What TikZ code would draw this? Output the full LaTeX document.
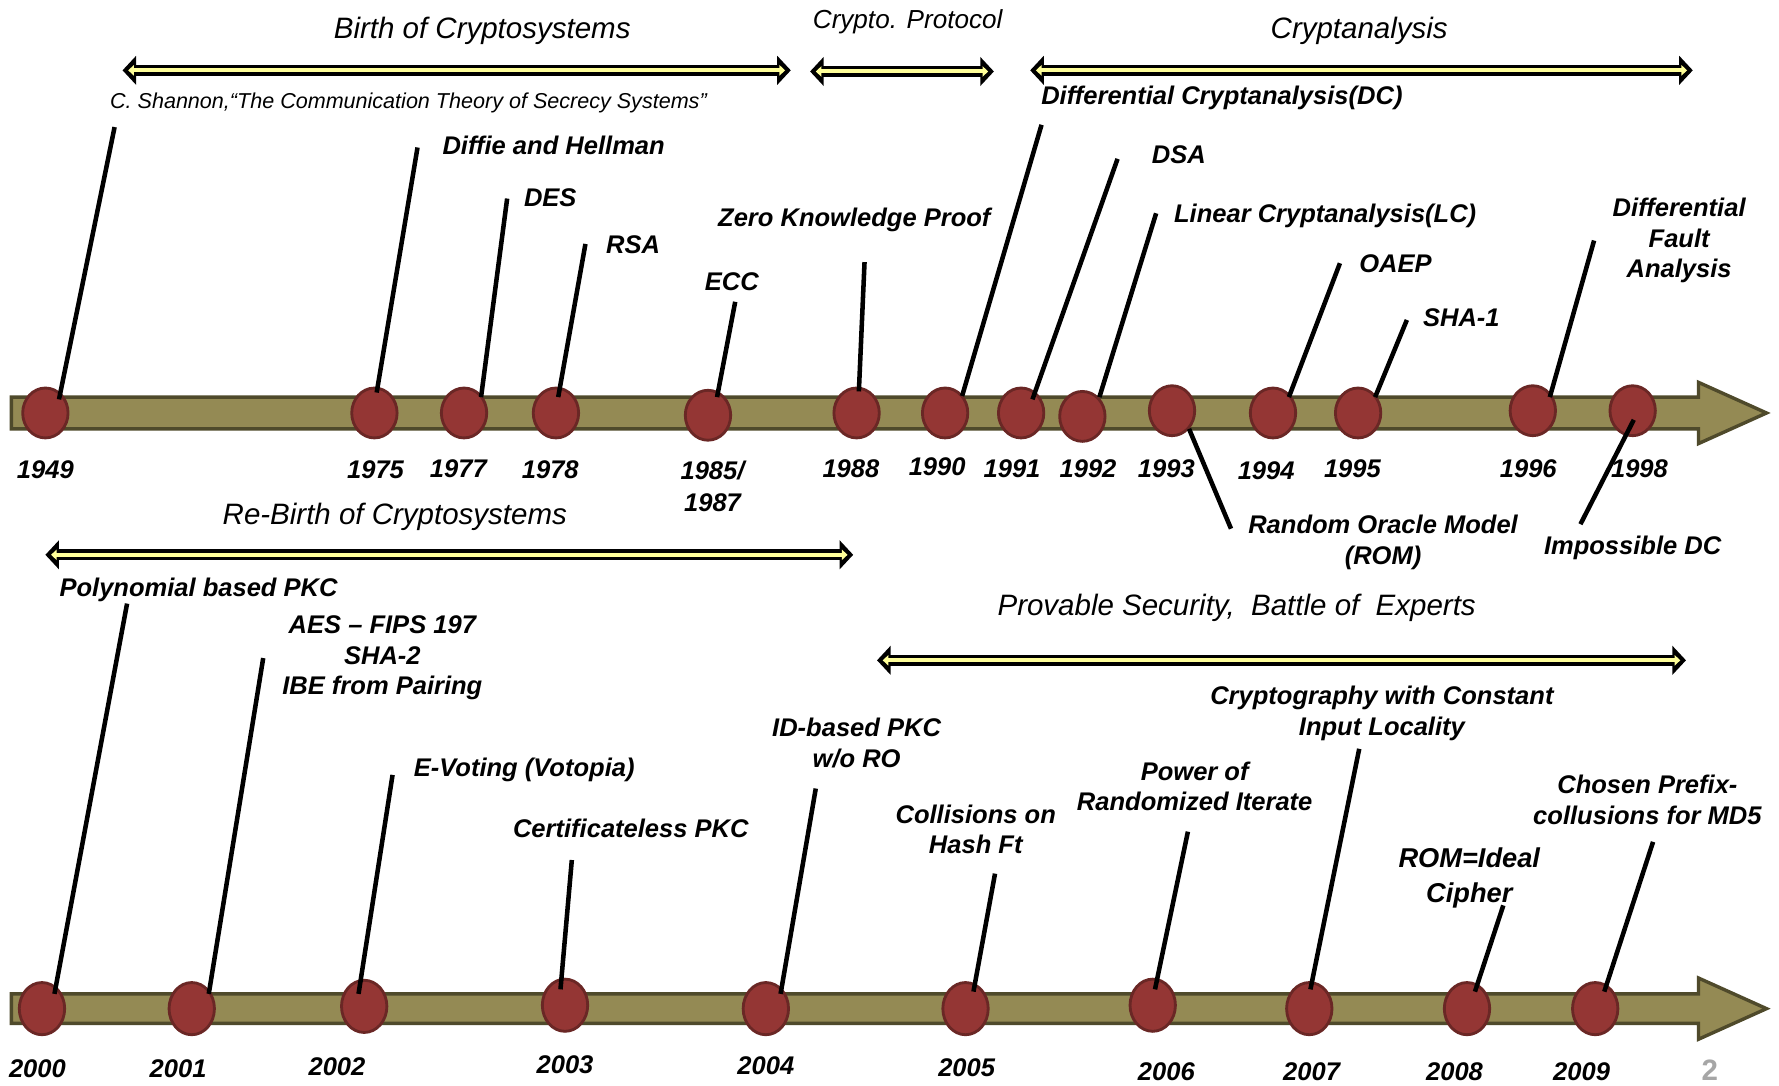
\documentclass[tikz,border=0pt]{standalone}
\usepackage{fontspec}
\setmainfont{Liberation Sans}
\usetikzlibrary{arrows.meta,shapes.geometric,calc}
\definecolor{barfill}{HTML}{948A54}
\definecolor{bardraw}{HTML}{4F4A2B}
\definecolor{dotfill}{HTML}{943634}
\definecolor{dotdraw}{HTML}{6A2725}
\definecolor{yel}{HTML}{FFFF99}
\definecolor{pagegray}{HTML}{A6A6A6}
\begin{document}
\begin{tikzpicture}[x=1pt,y=-1pt,
  lbl/.style={font=\fontsize{22.5}{27}\selectfont\bfseries\itshape, align=center, inner sep=0pt, yshift=-2pt},
  yr/.style={font=\fontsize{22.5}{28}\selectfont\bfseries\itshape, align=center, inner sep=0pt, yshift=-2pt},
  ttl/.style={font=\fontsize{26}{30}\selectfont\itshape, inner sep=0pt, yshift=-2.5pt},
  dot/.style={ellipse, draw=dotdraw, line width=2.5pt, fill=dotfill, minimum width=40pt, minimum height=44pt, inner sep=0pt},
  conn/.style={draw=black, line width=4pt},
  barshape/.style={fill=barfill, draw=bardraw, line width=3pt, line join=miter},
  dblarrow/.style={draw=black, line width=10pt, {Triangle[length=12pt,width=25pt]}-{Triangle[length=12pt,width=25pt]},
     postaction={draw=yel, line width=3.5pt, {Triangle[length=5pt,width=9pt]}-{Triangle[length=5pt,width=9pt]}, shorten <=5pt, shorten >=5pt}}
]
\useasboundingbox[fill=white] (0,0) rectangle (1568,957);

% ---------- bars ----------
\draw[barshape] (10,350) -- (1497,350) -- (1497,337) -- (1557,364) -- (1497,391) -- (1497,378) -- (10,378) -- cycle;
\draw[barshape] (10,876) -- (1497,876) -- (1497,862) -- (1557,889) -- (1497,916) -- (1497,902) -- (10,902) -- cycle;

% ---------- titles and period arrows ----------
\node[ttl] (tBirth) at (425,25) {Birth of Cryptosystems};
\node[ttl, font=\fontsize{23}{27}\selectfont\itshape] (tProt) at (800,17) {Crypto. Protocol};
\node[ttl] (tCrypt) at (1198,25) {Cryptanalysis};
\node[ttl] (tRebirth) at (348,453) {Re-Birth of Cryptosystems};
\node[ttl] (tProv) at (1090,533) {Provable Security,\ \ Battle of\ \ Experts};

\coordinate (a1l) at (108,62); \coordinate (a1r) at (697,62);
\coordinate (a2l) at (714,63); \coordinate (a2r) at (876,63);
\coordinate (a3l) at (908,62); \coordinate (a3r) at (1492,62);
\coordinate (a4l) at (40,489); \coordinate (a4r) at (752,489);
\coordinate (a5l) at (773,582); \coordinate (a5r) at (1486,582);
\draw[dblarrow] (a1l) -- (a1r);
\draw[dblarrow] (a2l) -- (a2r);
\draw[dblarrow] (a3l) -- (a3r);
\draw[dblarrow] (a4l) -- (a4r);
\draw[dblarrow] (a5l) -- (a5r);

% ---------- top timeline dots ----------
\node[dot] (c1949) at (40,364) {};
\node[dot] (c1975) at (330,364) {};
\node[dot] (c1977) at (409,364) {};
\node[dot] (c1978) at (490,364) {};
\node[dot] (c1985) at (624,366) {};
\node[dot] (c1988) at (755,364) {};
\node[dot] (c1990) at (833,364) {};
\node[dot] (c1991) at (900,364) {};
\node[dot] (c1992) at (954,367) {};
\node[dot] (c1993) at (1033,362) {};
\node[dot] (c1994) at (1122,364) {};
\node[dot] (c1995) at (1197,364) {};
\node[dot] (c1996) at (1351,362) {};
\node[dot] (c1998) at (1439,362) {};

% years top
\node[yr] (y1949) at (40,412) {1949};
\node[yr] (y1975) at (331,412) {1975};
\node[yr] (y1977) at (404,411) {1977};
\node[yr] (y1978) at (485,412) {1978};
\node[yr] (y1985) at (628,427) {1985/\\1987};
\node[yr] (y1988) at (750,411) {1988};
\node[yr] (y1990) at (826,409) {1990};
\node[yr] (y1991) at (892,411) {1991};
\node[yr] (y1992) at (959,411) {1992};
\node[yr] (y1993) at (1028,411) {1993};
\node[yr] (y1994) at (1116,413) {1994};
\node[yr] (y1995) at (1192,411) {1995};
\node[yr] (y1996) at (1347,411) {1996};
\node[yr] (y1998) at (1445,411) {1998};

% labels top
\node[inner sep=0pt, yshift=-2pt, font=\fontsize{19}{22}\selectfont\itshape] (l1949) at (360,89) {C. Shannon,“The Communication Theory of Secrecy Systems”};
\node[lbl] (l1975) at (488,126) {Diffie and Hellman};
\node[lbl] (l1977) at (485,172) {DES};
\node[lbl] (l1978) at (558,214) {RSA};
\node[lbl] (l1985) at (645,246) {ECC};
\node[lbl] (l1988) at (753,192) {Zero Knowledge Proof};
\node[lbl] (l1990) at (1077,84) {Differential Cryptanalysis(DC)};
\node[lbl] (l1991) at (1039,134) {DSA};
\node[lbl] (l1992) at (1168,188) {Linear Cryptanalysis(LC)};
\node[lbl] (l1993) at (1219,476) {Random Oracle Model\\(ROM)};
\node[lbl] (l1994) at (1230,230) {OAEP};
\node[lbl] (l1995) at (1288,278) {SHA-1};
\node[lbl] (l1996) at (1480,210) {Differential\\Fault\\Analysis};
\node[lbl] (l1998) at (1439,481) {Impossible DC};

% connector end points (top)
\coordinate (e1949) at (101,112);
\coordinate (e1975) at (368,130);
\coordinate (e1977) at (447,175);
\coordinate (e1978) at (516,215);
\coordinate (e1985) at (648,266);
\coordinate (e1988) at (762,231);
\coordinate (e1990) at (918,110);
\coordinate (e1991) at (985,140);
\coordinate (e1992) at (1019,188);
\coordinate (e1993) at (1085,466);
\coordinate (e1994) at (1181,232);
\coordinate (e1995) at (1240,282);
\coordinate (e1996) at (1405,212);
\coordinate (e1998) at (1393,462);

\draw[conn] ($(c1949)+(12,-12)$) -- (e1949);
\draw[conn] ($(c1975)+(2,-18)$) -- (e1975);
\draw[conn] ($(c1977)+(15,-14)$) -- (e1977);
\draw[conn] ($(c1978)+(2,-14)$) -- (e1978);
\draw[conn] ($(c1985)+(8,-16)$) -- (e1985);
\draw[conn] ($(c1988)+(2,-19)$) -- (e1988);
\draw[conn] ($(c1990)+(15,-15)$) -- (e1990);
\draw[conn] ($(c1991)+(10,-12)$) -- (e1991);
\draw[conn] ($(c1992)+(15,-17)$) -- (e1992);
\draw[conn] ($(c1993)+(15,16)$) -- (e1993);
\draw[conn] ($(c1994)+(14,-14)$) -- (e1994);
\draw[conn] ($(c1995)+(15,-14)$) -- (e1995);
\draw[conn] ($(c1996)+(15,-12)$) -- (e1996);
\draw[conn] ($(c1998)+(1,8)$) -- (e1998);

% ---------- bottom timeline dots ----------
\node[dot, minimum height=46pt] (c2000) at (37,889) {};
\node[dot, minimum height=46pt] (c2001) at (169,889) {};
\node[dot, minimum height=46pt] (c2002) at (321,887) {};
\node[dot, minimum height=46pt] (c2003) at (498,886) {};
\node[dot, minimum height=46pt] (c2004) at (675,889) {};
\node[dot, minimum height=46pt] (c2005) at (851,889) {};
\node[dot, minimum height=46pt] (c2006) at (1016,886) {};
\node[dot, minimum height=46pt] (c2007) at (1154,889) {};
\node[dot, minimum height=46pt] (c2008) at (1293,889) {};
\node[dot, minimum height=46pt] (c2009) at (1406,889) {};

% years bottom
\node[yr] (y2000) at (33,940) {2000};
\node[yr] (y2001) at (157,940) {2001};
\node[yr] (y2002) at (297,938) {2002};
\node[yr] (y2003) at (498,936) {2003};
\node[yr] (y2004) at (675,937) {2004};
\node[yr] (y2005) at (852,939) {2005};
\node[yr] (y2006) at (1028,943) {2006};
\node[yr] (y2007) at (1156,943) {2007};
\node[yr] (y2008) at (1282,943) {2008};
\node[yr] (y2009) at (1394,943) {2009};
\node[inner sep=0pt, text=pagegray, font=\fontsize{26}{30}\selectfont\bfseries] (pnum) at (1507,943) {2};

% labels bottom
\node[lbl] (l2000) at (175,518) {Polynomial based PKC};
\node[lbl] (l2001) at (337,578) {AES – FIPS 197\\SHA-2\\IBE from Pairing};
\node[lbl] (l2002) at (462,677) {E-Voting (Votopia)};
\node[lbl] (l2003) at (556,728) {Certificateless PKC};
\node[lbl] (l2004) at (755,653) {ID-based PKC\\w/o RO};
\node[lbl] (l2005) at (860,729) {Collisions on\\Hash Ft};
\node[lbl] (l2006) at (1053,691) {Power of\\Randomized Iterate};
\node[lbl] (l2007) at (1218,627) {Cryptography with Constant\\Input Locality};
\node[lbl, font=\fontsize{24}{31}\selectfont\bfseries\itshape] (l2008) at (1295,772) {ROM=Ideal\\Cipher};
\node[lbl] (l2009) at (1452,703) {Chosen Prefix-\\collusions for MD5};

% connector end points (bottom)
\coordinate (e2000) at (112,532);
\coordinate (e2001) at (232,580);
\coordinate (e2002) at (346,683);
\coordinate (e2003) at (504,758);
\coordinate (e2004) at (719,695);
\coordinate (e2005) at (877,770);
\coordinate (e2006) at (1047,733);
\coordinate (e2007) at (1198,660);
\coordinate (e2008) at (1325,798);
\coordinate (e2009) at (1457,742);

\draw[conn] ($(c2000)+(11,-13)$) -- (e2000);
\draw[conn] ($(c2001)+(15,-13)$) -- (e2001);
\draw[conn] ($(c2002)+(-5,-11)$) -- (e2002);
\draw[conn] ($(c2003)+(-4,-14)$) -- (e2003);
\draw[conn] ($(c2004)+(13,-13)$) -- (e2004);
\draw[conn] ($(c2005)+(7,-15)$) -- (e2005);
\draw[conn] ($(c2006)+(2,-14)$) -- (e2006);
\draw[conn] ($(c2007)+(1,-17)$) -- (e2007);
\draw[conn] ($(c2008)+(7,-15)$) -- (e2008);
\draw[conn] ($(c2009)+(8,-15)$) -- (e2009);
\end{tikzpicture}
\end{document}
